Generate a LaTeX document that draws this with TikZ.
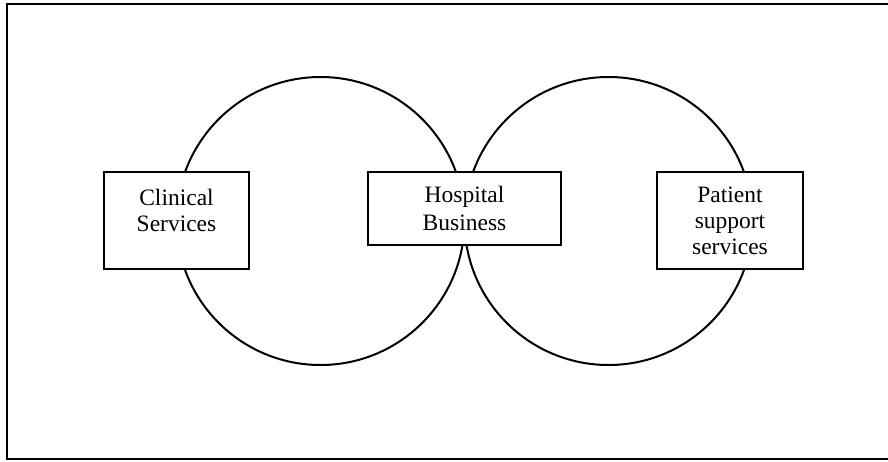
\documentclass[tikz,border=0pt]{standalone}
\usepackage{fontspec}
\setmainfont{Liberation Serif}
\begin{document}
\begin{tikzpicture}[x=1pt,y=-1pt,
  ring/.style={circle,draw,line width=2pt,minimum size=288pt,inner sep=0pt},
  boxnode/.style={rectangle,draw,line width=2pt,fill=white,inner sep=0pt,align=center,
    font=\fontsize{23.5pt}{26pt}\selectfont}]
\useasboundingbox (0,0) rectangle (888,461);
\draw[line width=2pt] (888,4) -- (7,4) -- (7,459) -- (888,459);
\node[ring] (lc) at (320.5,221) {};
\node[ring] (rc) at (608.5,221) {};
\node[boxnode,minimum width=145pt,minimum height=97pt] (clin) at (176.5,220.5) {Clinical\\Services\\[-13pt]\strut};
\node[boxnode,minimum width=193pt,minimum height=73pt] (hosp) at (464.5,208.5) {Hospital\\[2pt]Business};
\node[boxnode,minimum width=146pt,minimum height=97pt] (pat) at (730,220.5) {Patient\\support\\services};
\end{tikzpicture}
\end{document}
